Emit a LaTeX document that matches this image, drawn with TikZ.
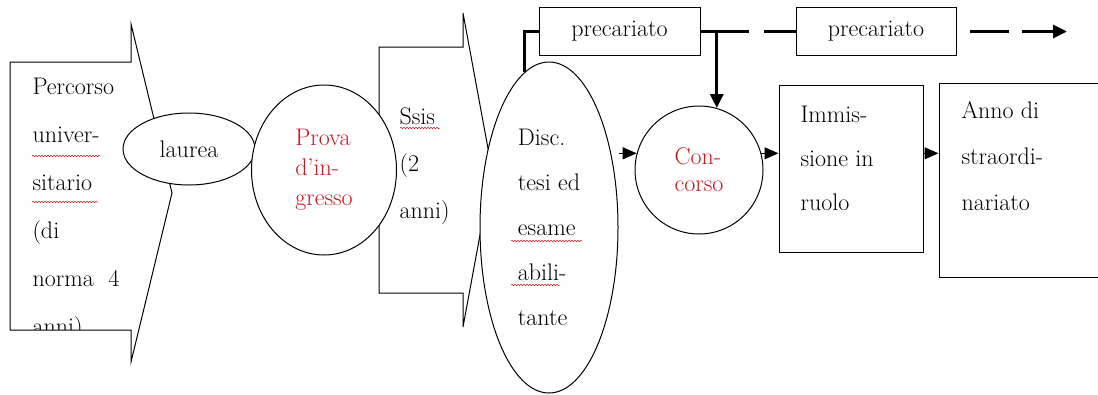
\documentclass[tikz,border=0pt]{standalone}
\usepackage{fontspec}
\usetikzlibrary{arrows.meta,shapes.geometric,decorations.pathmorphing,positioning}
\definecolor{rosso}{RGB}{200,25,35}

\begin{document}
\begin{tikzpicture}[x=1pt,y=-1pt,line width=1pt,>={Triangle[length=14pt,width=12pt]},
                    blob/.style={draw,ellipse,fill=white,inner sep=0pt,align=left},
                    box/.style={draw,rectangle,fill=white,inner sep=0pt},
                    txt/.style={inner sep=0pt,align=left,anchor=west},
                    fat/.style={line width=3.2pt},
                    fatarrow/.style={fat,-{Triangle[length=14pt,width=13pt]}},
                    wavy/.style={rosso,line width=0.5pt,decorate,
                                 decoration={snake,amplitude=0.8pt,segment length=3pt}}]

\useasboundingbox (0,0) rectangle (1098,394);
\clip (0,0) rectangle (1098,394);

% frecce a blocco
\draw (10,62) -- (131,62) -- (131,24) -- (172,193) -- (131,362) -- (131,330) -- (10,330) -- cycle;
\draw (379,47) -- (463,47) -- (463,13) -- (492,170) -- (463,327) -- (463,293) -- (379,293) -- cycle;

\begin{scope}
  \clip (10,62) rectangle (131,329);
  \node[txt,font=\fontsize{24}{48}\selectfont] (perc) at (32,209)
       {Percorso\\univer-\\sitario\\(di\\norma~~4\\anni)};
\end{scope}
\node[txt,font=\fontsize{24}{47}\selectfont] (ssis) at (399,166) {Ssis\\(2\\anni)};

\node[blob,minimum width=132,minimum height=72,font=\fontsize{24}{30}\selectfont] (laurea) at (189,149) {laurea};
\node[blob,minimum width=145,minimum height=170,text=rosso,font=\fontsize{24}{30}\selectfont] (prova) at (324,170)
     {Prova\\d’in-\\gresso};

\node[box,minimum width=161,minimum height=48,font=\fontsize{24}{30}\selectfont] (prec1) at (619.5,31.5) {precariato};
\node[box,minimum width=160,minimum height=48,font=\fontsize{24}{30}\selectfont] (prec2) [right=95pt of prec1] {precariato};
\coordinate (fine) at (1067,31.5);

\node[blob,minimum width=138,minimum height=331,font=\fontsize{24}{45}\selectfont] (disc) at (549,227.5)
     {Disc.\\tesi ed\\esame\\abili-\\tante};
\node[blob,circle,minimum size=128,text=rosso,font=\fontsize{24}{27}\selectfont] (conc) at (699,170) {Con-\\corso};

\node[box,minimum width=144,minimum height=167] (imm) at (851,168.5) {};
\node[box,minimum width=163,minimum height=194] (anno) at (1020.5,180) {};
\node[txt,font=\fontsize{24}{44}\selectfont] (immT) at (800,158.5) {Immis-\\sione in\\ruolo};
\node[txt,font=\fontsize{24}{46}\selectfont] (annoT) at (961,156) {Anno di\\straordi-\\nariato};

% precariato
\draw[fat] (disc.99) |- (prec1.west);
\draw[fat,dash pattern=on 48pt off 15pt] (prec1.east) -- (prec2.west);
\draw[fatarrow,shorten <=13pt,dash pattern=on 39pt off 13pt] (prec2.east) -- (fine);
\draw[fatarrow] (prec1.east -| conc.74) -- (conc.74);

\path[->] (disc.east |- conc.165) edge (conc.165)
          (conc.15) edge (imm.west |- conc.15)
          (imm.east |- conc.15) edge (anno.west |- conc.15);

\draw[wavy] (32,156) -- (100,156);
\draw[wavy] (32,202) -- (98,202);
\draw[wavy] (400,128) -- (440,128);
\draw[wavy] (511,241) -- (582,241);
\draw[wavy] (511,285) -- (560,285);

\end{tikzpicture}
\end{document}
